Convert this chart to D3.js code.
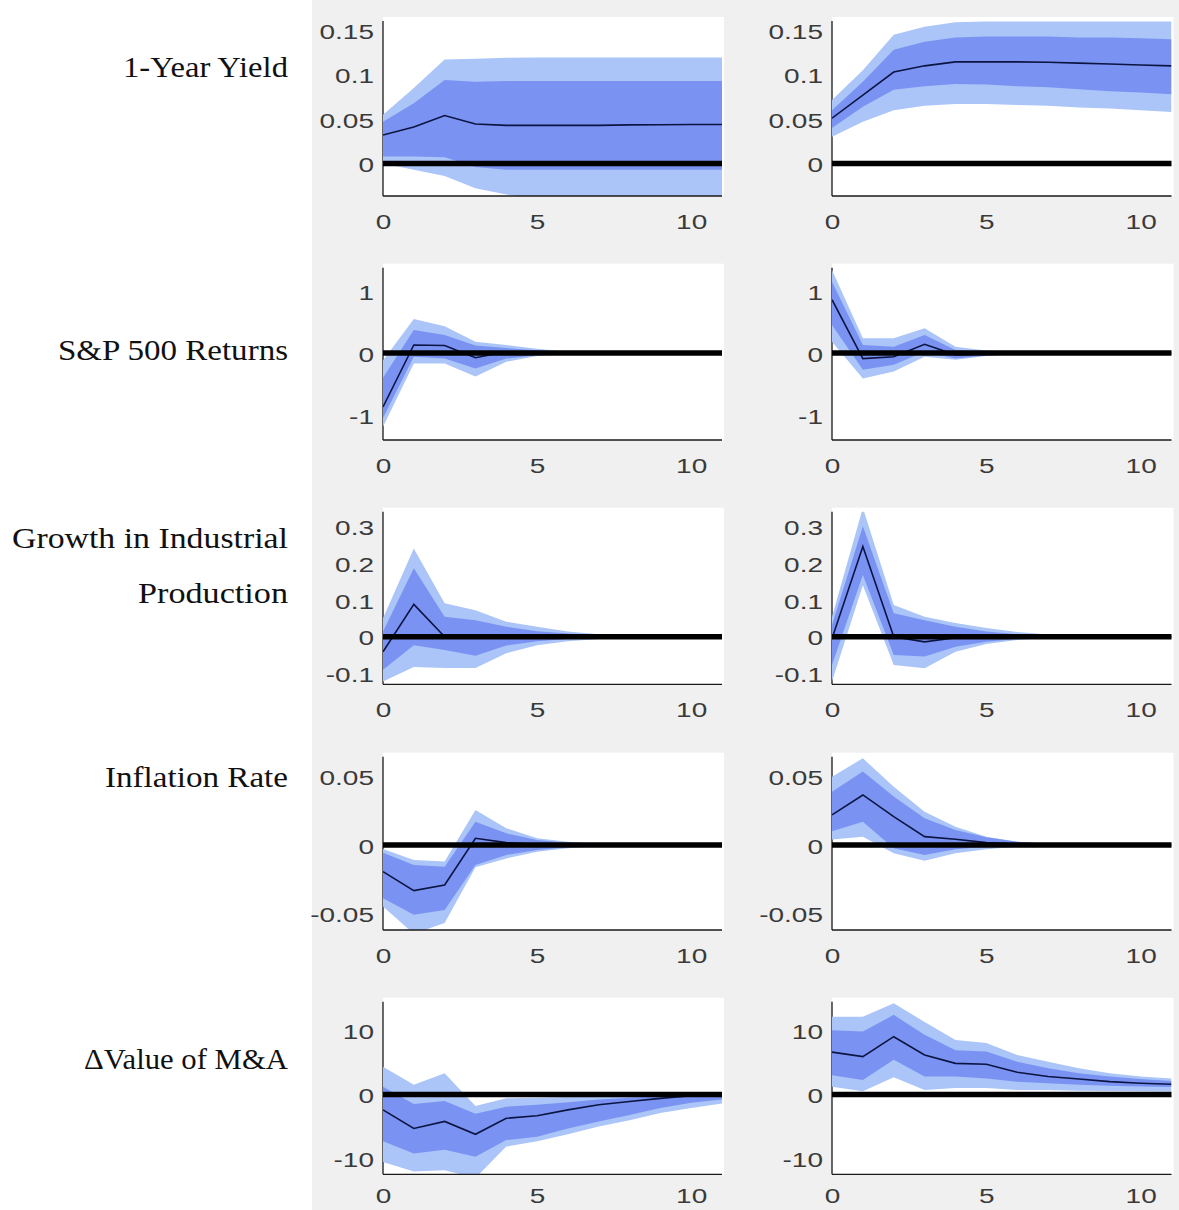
<!DOCTYPE html>
<html><head><meta charset="utf-8">
<script src="https://cdn.jsdelivr.net/npm/d3@7"></script>
<style>body{margin:0;background:#fff} svg{display:block}</style>
</head><body>
<svg id="c" width="1179" height="1210"></svg>
<script>
// ---------- DATA ----------
const horizon = [0,1,2,3,4,5,6,7,8,9,10,11];
const xTicks = [0, 5, 10];
const rowLabels = [["1-Year Yield"], ["S&P 500 Returns"], ["Growth in Industrial", "Production"], ["Inflation Rate"], ["\u0394Value of M&A"]];
const yDomains = [[-0.0366, 0.1605], [-1.403, 1.376], [-0.1293, 0.3397], [-0.0622, 0.0646], [-12.43, 14.45]];
const yTicks = [[0, 0.05, 0.1, 0.15], [-1, 0, 1], [-0.1, 0, 0.1, 0.2, 0.3], [-0.05, 0, 0.05], [-10, 0, 10]];

// Row 1: 1-Year Yield
const yldL_med   = [0.032, 0.041, 0.054, 0.0445, 0.043, 0.043, 0.043, 0.043, 0.0435, 0.0437, 0.044, 0.044];
const yldL_outHi = [0.055, 0.085, 0.117, 0.118, 0.119, 0.1195, 0.1195, 0.1195, 0.1195, 0.1195, 0.1195, 0.1195];
const yldL_inHi  = [0.047, 0.068, 0.094, 0.092, 0.093, 0.093, 0.093, 0.093, 0.093, 0.093, 0.093, 0.093];
const yldL_inLo  = [0.008, 0.008, 0.007, -0.004, -0.007, -0.007, -0.007, -0.007, -0.007, -0.007, -0.007, -0.007];
const yldL_outLo = [0.000, -0.007, -0.014, -0.028, -0.035, -0.040, -0.042, -0.043, -0.044, -0.044, -0.044, -0.044];
const yldR_med   = [0.051, 0.077, 0.103, 0.110, 0.1145, 0.1145, 0.1145, 0.114, 0.113, 0.112, 0.111, 0.110];
const yldR_outHi = [0.0715, 0.105, 0.145, 0.154, 0.159, 0.160, 0.160, 0.160, 0.160, 0.160, 0.160, 0.160];
const yldR_inHi  = [0.060, 0.092, 0.128, 0.137, 0.142, 0.143, 0.143, 0.143, 0.142, 0.142, 0.141, 0.140];
const yldR_inLo  = [0.040, 0.064, 0.083, 0.087, 0.0895, 0.089, 0.087, 0.086, 0.0835, 0.0815, 0.080, 0.078];
const yldR_outLo = [0.030, 0.047, 0.060, 0.065, 0.067, 0.067, 0.066, 0.065, 0.063, 0.062, 0.060, 0.058];

// Row 2: S&P 500 Returns
const spL_med   = [-0.87, 0.13, 0.12, -0.075, 0.02, 0.01, 0, 0, 0, 0, 0, 0];
const spL_outHi = [-0.12, 0.55, 0.43, 0.18, 0.13, 0.07, 0.02, 0.01, 0, 0, 0, 0];
const spL_inHi  = [-0.40, 0.37, 0.29, 0.12, 0.08, 0.045, 0.01, 0.005, 0, 0, 0, 0];
const spL_inLo  = [-1.05, -0.06, -0.09, -0.25, -0.09, -0.035, -0.01, -0.005, 0, 0, 0, 0];
const spL_outLo = [-1.19, -0.17, -0.17, -0.38, -0.14, -0.05, -0.02, -0.01, 0, 0, 0, 0];
const spR_med   = [0.86, -0.09, -0.06, 0.14, -0.03, -0.01, 0, 0, 0, 0, 0, 0];
const spR_outHi = [1.34, 0.24, 0.24, 0.40, 0.10, 0.04, 0.02, 0.01, 0, 0, 0, 0];
const spR_inHi  = [1.15, 0.13, 0.10, 0.29, 0.05, 0.02, 0.01, 0, 0, 0, 0, 0];
const spR_inLo  = [0.45, -0.27, -0.19, 0.02, -0.09, -0.04, -0.01, 0, 0, 0, 0, 0];
const spR_outLo = [0.18, -0.41, -0.30, -0.06, -0.11, -0.05, -0.02, -0.01, 0, 0, 0, 0];

// Row 3: Growth in Industrial Production
const ipL_med   = [-0.041, 0.088, 0.0, 0.002, 0.002, 0.001, 0.001, 0, 0, 0, 0, 0];
const ipL_outHi = [0.05, 0.24, 0.091, 0.072, 0.041, 0.027, 0.014, 0.007, 0.005, 0.002, 0.002, 0.002];
const ipL_inHi  = [0.014, 0.186, 0.054, 0.045, 0.027, 0.015, 0.009, 0.005, 0.002, 0.002, 0.001, 0.001];
const ipL_inLo  = [-0.09, -0.023, -0.036, -0.052, -0.024, -0.012, -0.006, -0.003, -0.002, -0.001, -0.001, -0.001];
const ipL_outLo = [-0.122, -0.082, -0.085, -0.085, -0.045, -0.023, -0.012, -0.006, -0.003, -0.002, -0.002, -0.002];
const ipR_med   = [-0.005, 0.245, 0.0, -0.014, -0.003, 0, 0, 0, 0, 0, 0, 0];
const ipR_outHi = [0.054, 0.35, 0.086, 0.054, 0.037, 0.024, 0.013, 0.006, 0.002, 0.002, 0.001, 0.001];
const ipR_inHi  = [0.032, 0.30, 0.064, 0.045, 0.027, 0.014, 0.007, 0.002, 0.002, 0.001, 0.001, 0.001];
const ipR_inLo  = [-0.077, 0.168, -0.05, -0.054, -0.027, -0.014, -0.006, -0.002, -0.001, -0.001, -0.001, -0.001];
const ipR_outLo = [-0.122, 0.14, -0.077, -0.086, -0.041, -0.02, -0.009, -0.003, -0.002, -0.001, -0.001, -0.001];

// Row 4: Inflation Rate
const infL_med   = [-0.0195, -0.0334, -0.0293, 0.0049, 0.0017, 0.0005, 0, 0, 0, 0, 0, 0];
const infL_outHi = [-0.003, -0.011, -0.012, 0.0256, 0.0122, 0.005, 0.0024, 0.001, 0.0005, 0.0003, 0.0002, 0.0002];
const infL_inHi  = [-0.0056, -0.0146, -0.0159, 0.017, 0.0085, 0.0037, 0.0017, 0.0005, 0.0003, 0.0002, 0.0001, 0.0001];
const infL_inLo  = [-0.039, -0.051, -0.0476, -0.0146, -0.0073, -0.0037, -0.0017, -0.0005, -0.0003, -0.0002, -0.0001, -0.0001];
const infL_outLo = [-0.045, -0.065, -0.057, -0.0163, -0.0098, -0.005, -0.0024, -0.001, -0.0005, -0.0003, -0.0002, -0.0002];
const infR_med   = [0.022, 0.0366, 0.0207, 0.0061, 0.0042, 0.0017, 0.0007, 0, 0, 0, 0, 0];
const infR_outHi = [0.05, 0.0634, 0.0427, 0.0244, 0.0134, 0.0061, 0.0024, 0.001, 0.0005, 0.0003, 0.0002, 0.0002];
const infR_inHi  = [0.039, 0.0537, 0.0354, 0.0195, 0.011, 0.0056, 0.0024, 0.0007, 0.0004, 0.0002, 0.0001, 0.0001];
const infR_inLo  = [0.010, 0.017, -0.0024, -0.0073, -0.0032, -0.0012, -0.0005, -0.0003, -0.0002, -0.0001, -0.0001, -0.0001];
const infR_outLo = [0.004, 0.006, -0.0061, -0.0115, -0.0061, -0.0032, -0.0012, -0.0005, -0.0003, -0.0002, -0.0002, -0.0002];

// Row 5: Delta Value of M&A
const maL_med   = [-2.4, -5.3, -4.2, -6.2, -3.7, -3.3, -2.4, -1.6, -1.1, -0.6, -0.2, -0.1];
const maL_outHi = [4.3, 1.5, 3.3, -1.8, -0.6, -0.5, -0.4, -0.3, -0.2, -0.1, 0, 0.1];
const maL_inHi  = [1.2, -1.5, -1.0, -3.0, -1.9, -1.6, -1.2, -0.8, -0.5, -0.3, -0.1, 0.05];
const maL_inLo  = [-7.3, -9.2, -8.6, -9.7, -7.1, -6.6, -5.3, -4.2, -3.2, -2.1, -1.3, -0.8];
const maL_outLo = [-10.5, -12.0, -11.8, -13.0, -8.1, -7.3, -6.2, -5.0, -4.0, -2.9, -2.1, -1.4];
const maR_med   = [6.6, 5.9, 9.0, 6.15, 4.85, 4.7, 3.45, 2.8, 2.4, 2.0, 1.75, 1.6];
const maR_outHi = [12.1, 12.1, 14.2, 11.3, 8.5, 8.0, 6.15, 5.1, 4.1, 3.3, 2.8, 2.5];
const maR_inHi  = [10.0, 9.8, 12.4, 9.3, 6.9, 6.7, 5.1, 4.1, 3.3, 2.8, 2.4, 2.1];
const maR_inLo  = [3.0, 2.25, 5.4, 2.8, 2.8, 2.5, 2.0, 1.75, 1.5, 1.35, 1.25, 1.15];
const maR_outLo = [1.2, 0.5, 2.7, 0.7, 1.0, 1.0, 0.7, 0.7, 0.6, 0.55, 0.5, 0.45];

// ---------- LAYOUT ----------
const colBox = [[383, 722], [832, 1171.5]];
const rowBox = [[21, 196], [267.7, 440], [511.7, 684.3], [756.7, 930], [1001.7, 1174.3]];
const xLabelPad = [19, 19, 19, 19, 15];
const labelBase = [[77], [360], [548, 603], [787], [1069]];
const labelW = [[165], [230], [276, 150], [183], [204]];

const panels = [
  [[yldL_med, yldL_outHi, yldL_inHi, yldL_inLo, yldL_outLo], [yldR_med, yldR_outHi, yldR_inHi, yldR_inLo, yldR_outLo]],
  [[spL_med, spL_outHi, spL_inHi, spL_inLo, spL_outLo], [spR_med, spR_outHi, spR_inHi, spR_inLo, spR_outLo]],
  [[ipL_med, ipL_outHi, ipL_inHi, ipL_inLo, ipL_outLo], [ipR_med, ipR_outHi, ipR_inHi, ipR_inLo, ipR_outLo]],
  [[infL_med, infL_outHi, infL_inHi, infL_inLo, infL_outLo], [infR_med, infR_outHi, infR_inHi, infR_inLo, infR_outLo]],
  [[maL_med, maL_outHi, maL_inHi, maL_inLo, maL_outLo], [maR_med, maR_outHi, maR_inHi, maR_inLo, maR_outLo]]
];

const LIGHT = "#abc5f8", DARK = "#7a93f2";
const svg = d3.select("#c");
const defs = svg.append("defs");

svg.append("rect").attr("x", 0).attr("y", 0).attr("width", 1179).attr("height", 1210).attr("fill", "#fff");
svg.append("rect").attr("x", 312).attr("y", 0).attr("width", 867).attr("height", 1210).attr("fill", "#f0f0f0");

// Row labels
rowLabels.forEach((lines, r) => {
  lines.forEach((txt, i) => {
    svg.append("text")
      .attr("x", 288).attr("y", labelBase[r][i])
      .attr("text-anchor", "end")
      .attr("font-family", "'Liberation Serif', 'DejaVu Serif', serif")
      .attr("font-size", 29)
      .attr("fill", "#111")
      .attr("textLength", labelW[r][i])
      .attr("lengthAdjust", "spacingAndGlyphs")
      .text(txt);
  });
});

const XS = 1.4; // horizontal stretch of tick text
const TF = 20;  // tick font size

panels.forEach((row, r) => {
  row.forEach((series, c) => {
    const [x0, x1] = colBox[c];
    const [top, bottom] = rowBox[r];
    const xs = d3.scaleLinear().domain([horizon[0], horizon[horizon.length - 1]]).range([x0, x1]);
    const ys = d3.scaleLinear().domain(yDomains[r]).range([bottom, top]);
    const [med, outHi, inHi, inLo, outLo] = series;
    const id = `clip-${r}-${c}`;
    defs.append("clipPath").attr("id", id).append("rect")
      .attr("x", x0).attr("y", top).attr("width", x1 - x0).attr("height", bottom - top);

    const g = svg.append("g");
    g.append("rect").attr("x", x0).attr("y", top - 4).attr("width", x1 - x0 + 2).attr("height", bottom - top + 4).attr("fill", "#fff");
    // y axis line
    g.append("line").attr("x1", x0).attr("x2", x0).attr("y1", top).attr("y2", bottom).attr("stroke", "#1a1a1a").attr("stroke-width", 1.3);

    const bands = g.append("g").attr("clip-path", `url(#${id})`);
    const area = (lo, hi) => d3.area().x((d, i) => xs(horizon[i])).y0((d, i) => ys(lo[i])).y1((d, i) => ys(hi[i]))(horizon);
    bands.append("path").attr("d", area(outLo, outHi)).attr("fill", LIGHT);
    bands.append("path").attr("d", area(inLo, inHi)).attr("fill", DARK);

    // zero line
    g.append("line").attr("x1", xs(0)).attr("x2", xs(11)).attr("y1", ys(0)).attr("y2", ys(0)).attr("stroke", "#000").attr("stroke-width", 5.5);
    // median line
    const line = d3.line().x((d, i) => xs(horizon[i])).y(d => ys(d));
    bands.append("path").attr("d", line(med)).attr("fill", "none").attr("stroke", "#0c1442").attr("stroke-width", 1.6);

    // x axis line
    g.append("line").attr("x1", x0).attr("x2", x1).attr("y1", bottom).attr("y2", bottom).attr("stroke", "#1a1a1a").attr("stroke-width", 1.3);

    // y axis labels
    const ya = g.append("g").attr("transform", `translate(${x0},0)`)
      .call(d3.axisLeft(ys).tickValues(yTicks[r]).tickSize(0).tickFormat(d => String(d)));
    ya.select(".domain").remove();
    ya.selectAll("text").attr("x", 0).attr("dy", "0.36em")
      .attr("transform", `translate(-9,1) scale(${XS},1)`)
      .attr("font-family", "'Liberation Sans', Arial, sans-serif").attr("font-size", TF).attr("fill", "#3a3a3a");

    // x axis labels
    const xa = g.append("g").attr("transform", `translate(0,${bottom})`)
      .call(d3.axisBottom(xs).tickValues(xTicks).tickSize(0).tickPadding(xLabelPad[r]).tickFormat(d => String(d)));
    xa.select(".domain").remove();
    xa.selectAll("text").attr("x", 0)
      .attr("transform", `scale(${XS},1)`)
      .attr("font-family", "'Liberation Sans', Arial, sans-serif").attr("font-size", TF).attr("fill", "#3a3a3a");
  });
});
</script>
</body></html>
